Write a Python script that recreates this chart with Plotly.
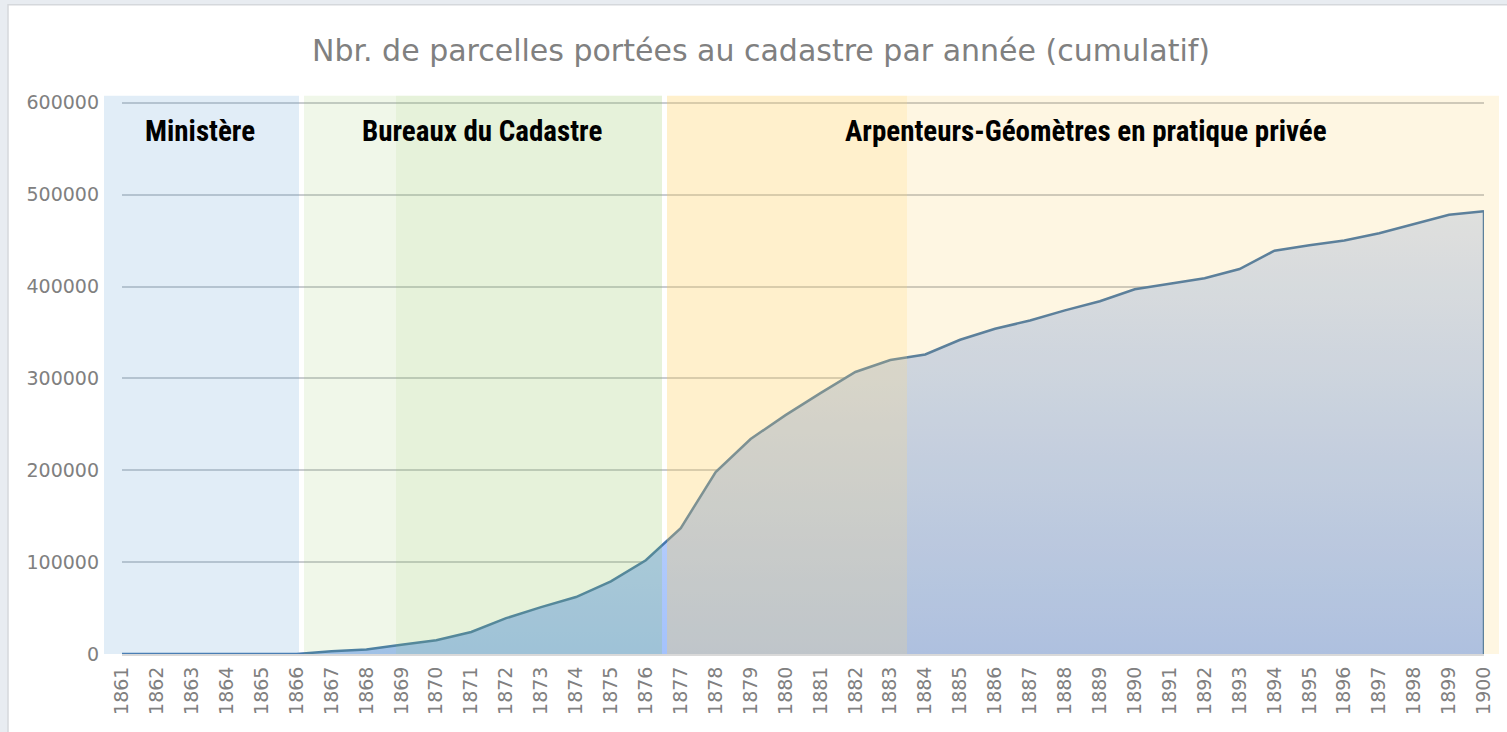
# Parcelles portées au cadastre - cumulative area chart

import plotly.graph_objects as go

# years on the x axis
years = [1861, 1862, 1863, 1864, 1865, 1866, 1867, 1868, 1869, 1870,
         1871, 1872, 1873, 1874, 1875, 1876, 1877, 1878, 1879, 1880,
         1881, 1882, 1883, 1884, 1885, 1886, 1887, 1888, 1889, 1890,
         1891, 1892, 1893, 1894, 1895, 1896, 1897, 1898, 1899, 1900]

# cumulative number of parcels
parcelles = [0, 0, 0, 0, 0, 0, 3000, 5000, 10000, 15000,
             24000, 39000, 51000, 62000, 79000, 102000, 137000, 198000, 234000, 260000,
             284000, 307000, 320000, 326000, 342000, 354000, 363000, 374000, 384000, 397000,
             403000, 409000, 419000, 439000, 445000, 450000, 458000, 468000, 478000, 482000]

# periods shown as coloured bands
periodes = ["Ministère", "Bureaux du Cadastre", "Arpenteurs-Géomètres en pratique privée"]
y_ticks = [0, 100000, 200000, 300000, 400000, 500000, 600000]

title = "Nbr. de parcelles portées au cadastre par année (cumulatif)"

# plot box in pixels
W, H = 1507, 732
left, right = 122, 1484
bottom = 654
y_max = 603000                      # a bit over 600000 so the top gridline shows
px_per_unit = 551 / 600000
top = bottom - y_max * px_per_unit
plot_w = right - left
plot_h = bottom - top


def xp(px):
    # pixel x -> paper x
    return (px - left) / plot_w


def yp(py):
    # pixel y -> paper y
    return (bottom - py) / plot_h


fig = go.Figure()

# area with vertical gradient (grey-blue at top, blue at bottom)
fig.add_trace(go.Scatter(
    x=years,
    y=parcelles,
    mode="lines",
    line=dict(color="#4678ae", width=2.5),
    fill="tozeroy",
    fillgradient=dict(type="vertical",
                      colorscale=[[0, "rgb(164,194,252)"], [1, "rgb(220,230,250)"]]),
    hoverinfo="x+y",
))
# closing edge of the area at the last year
fig.add_trace(go.Scatter(
    x=[years[-1], years[-1]],
    y=[0, parcelles[-1]],
    mode="lines",
    line=dict(color="#4678ae", width=2.5),
    hoverinfo="skip",
))

# coloured bands laid over the chart (pixel x from, to, colour)
band_top = 96
bands = [
    (104, 299, "rgba(91,155,213,0.18)"),
    (304, 396, "rgba(141,196,87,0.13)"),
    (396, 662, "rgba(141,196,87,0.22)"),
    (667, 907, "rgba(255,205,85,0.30)"),
    (907, 1499, "rgba(250,185,30,0.13)"),
]

shapes = []
# white chart box over the light page background
shapes.append(dict(type="rect", xref="paper", yref="paper",
                   x0=xp(8), x1=xp(W + 10), y0=yp(H + 10), y1=yp(5),
                   fillcolor="white", line=dict(color="#d5d8dc", width=1.5),
                   layer="below"))
for x0, x1, col in bands:
    shapes.append(dict(type="rect", xref="paper", yref="paper",
                       x0=xp(x0), x1=xp(x1), y0=0, y1=yp(band_top),
                       fillcolor=col, line=dict(width=0), layer="above"))

label_x = [200, 482, 1086]
annotations = []
for lab, lx in zip(periodes, label_x):
    annotations.append(dict(
        text="<b>" + lab + "</b>", x=xp(lx), xref="paper", y=yp(131), yref="paper",
        showarrow=False, xanchor="center", yanchor="middle",
        font=dict(family="Liberation Sans Narrow, Arial Narrow, Roboto Condensed, sans-serif",
                  size=29, color="black"),
    ))

fig.update_layout(
    width=W,
    height=H,
    margin=dict(l=left, r=W - right, t=top, b=H - bottom, pad=0),
    paper_bgcolor="#e8ecf1",
    plot_bgcolor="rgba(0,0,0,0)",
    showlegend=False,
    title=dict(text=title, x=761 / W, xref="container", xanchor="center",
               y=1 - 50 / H, yref="container", yanchor="middle",
               font=dict(family="DejaVu Sans", size=30, color="#808080")),
    shapes=shapes,
    annotations=annotations,
)

fig.update_xaxes(
    range=[years[0], years[-1]],
    tickmode="array",
    tickvals=years,
    ticktext=[str(y) for y in years],
    tickangle=-90,
    tickfont=dict(family="DejaVu Sans", size=19, color="#808080"),
    ticklabelstandoff=3,
    showgrid=False,
    zeroline=False,
    showline=True,
    linecolor="#d9d9d9",
    linewidth=2,
    automargin=False,
)
fig.update_yaxes(
    range=[0, y_max],
    tickmode="array",
    tickvals=y_ticks,
    ticktext=[str(v) for v in y_ticks],
    tickfont=dict(family="DejaVu Sans", size=19, color="#808080"),
    ticklabelstandoff=22,
    showgrid=True,
    gridcolor="#c9ccd0",
    gridwidth=2,
    zeroline=False,
    automargin=False,
)

# drop the default page margin so the figure sits at the window's top-left corner
fig.write_html("out.html", config={"displayModeBar": False},
               post_script="document.body.style.margin='0px';")
